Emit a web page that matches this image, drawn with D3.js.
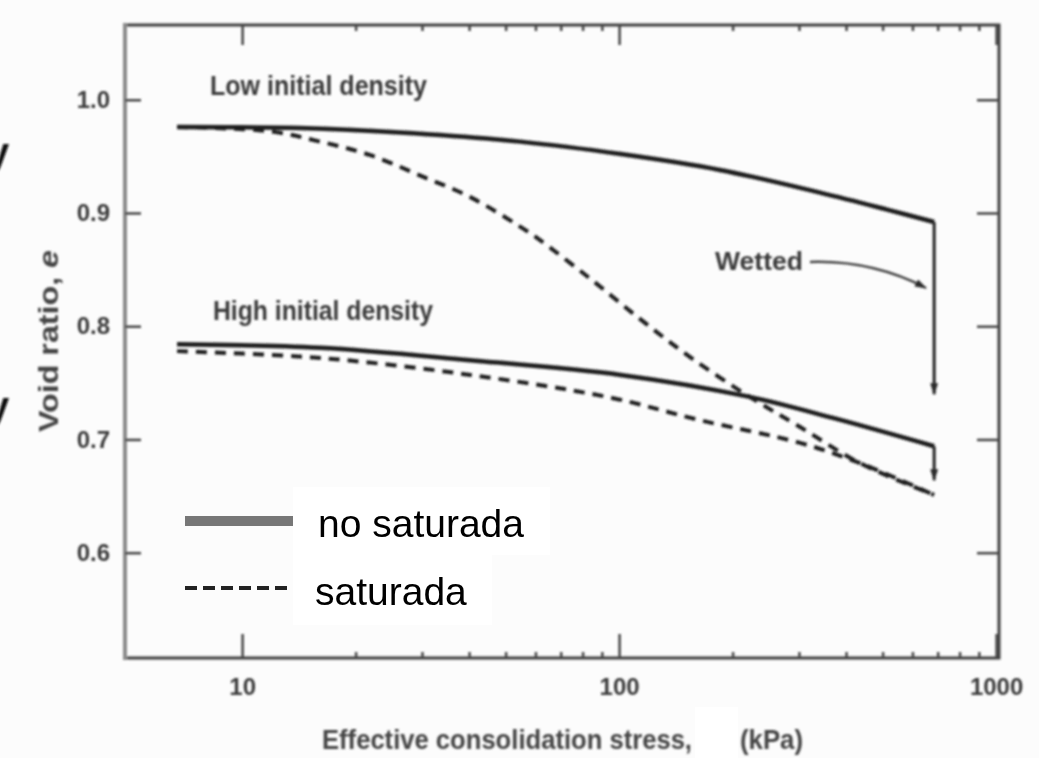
<!DOCTYPE html>
<html>
<head>
<meta charset="utf-8">
<script src="https://cdn.jsdelivr.net/npm/d3@7"></script>
<style>
  html, body { margin: 0; padding: 0; background: #fcfcfc; }
  svg { display: block; }
  text { font-family: "Liberation Sans", Arial, sans-serif; }
</style>
</head>
<body>
<svg id="chart" width="1039" height="758"></svg>
<script>
// Effective consolidation stress (kPa) and void ratio e for each test curve
const stressLowUnsat = [6.72, 14.2, 26.2, 54.6, 101, 185, 341, 514, 685];
const eLowUnsat      = [0.976, 0.975, 0.971, 0.963, 0.952, 0.938, 0.918, 0.903, 0.892];

const stressLowSat = [6.72, 11.9, 16.1, 21.9, 29.7, 40.3, 54.6, 61.7, 83.8, 114, 154, 221, 302, 436, 685];
const eLowSat      = [0.976, 0.972, 0.963, 0.951, 0.933, 0.914, 0.888, 0.876, 0.842, 0.806, 0.773, 0.738, 0.711, 0.679, 0.651];

const stressHighUnsat = [6.72, 16.1, 40.3, 101, 219, 369, 685];
const eHighUnsat      = [0.784, 0.781, 0.770, 0.757, 0.738, 0.719, 0.694];

const stressHighSat = [6.72, 16.1, 40.3, 94.7, 164, 302, 436, 685];
const eHighSat      = [0.778, 0.772, 0.757, 0.737, 0.717, 0.697, 0.679, 0.651];

// Wetting steps at constant stress: e before wetting, e at arrow tip
const wettingStress = 685;
const wettingLow  = [0.892, 0.740];
const wettingHigh = [0.694, 0.664];

// Axis ticks
const xMajorTicks = [10, 100, 1000];
const xMinorTicks = [20, 30, 40, 50, 60, 70, 80, 90, 200, 300, 400, 500, 600, 700, 800, 900];
const yTicks = [0.6, 0.7, 0.8, 0.9, 1.0];

// Text
const curveLabels = ["Low initial density", "High initial density"];
const legendLabels = ["no saturada", "saturada"];
const wettedLabel = "Wetted";

const svg = d3.select("#chart");

const defs = svg.append("defs");
defs.append("filter").attr("id", "soft")
  .attr("x", "-5%").attr("y", "-5%").attr("width", "110%").attr("height", "110%")
  .append("feGaussianBlur").attr("stdDeviation", 0.9);
defs.append("marker").attr("id", "head")
  .attr("viewBox", "0 0 12 8").attr("refX", 11).attr("refY", 4)
  .attr("markerWidth", 12).attr("markerHeight", 8)
  .attr("markerUnits", "userSpaceOnUse").attr("orient", "auto")
  .append("path").attr("d", "M0,0 L12,4 L0,8 Z").attr("fill", "#2a2a2a");

const x = d3.scaleLog().domain([4.89, 1018]).range([125, 999]);
const y = d3.scaleLinear().domain([0.507, 1.066]).range([658, 25]);

const g = svg.append("g").attr("filter", "url(#soft)");

// Frame
g.append("rect").attr("x", 125).attr("y", 25).attr("width", 874).attr("height", 633)
  .attr("fill", "none").attr("stroke", "#3e3e3e").attr("stroke-width", 3);
g.append("line").attr("x1", 125).attr("x2", 125).attr("y1", 23).attr("y2", 660)
  .attr("stroke", "#8a8a8a").attr("stroke-width", 4);

function styleAxis(sel) {
  sel.select(".domain").remove();
  sel.selectAll(".tick line").attr("stroke", "#444").attr("stroke-width", 2.5);
  sel.selectAll(".tick text")
    .attr("fill", "#3a3a3a").attr("font-weight", "bold").attr("font-size", 24);
}

// Bottom axis (ticks pointing inward)
g.append("g").attr("transform", "translate(0,658)")
  .call(d3.axisBottom(x).tickValues(xMajorTicks).tickSize(-24).tickPadding(20)
    .tickFormat(d3.format("d")))
  .call(styleAxis);
g.append("g").attr("transform", "translate(0,658)")
  .call(d3.axisBottom(x).tickValues(xMinorTicks).tickSize(-6).tickFormat(""))
  .call(styleAxis);

// Top axis
g.append("g").attr("transform", "translate(0,25)")
  .call(d3.axisTop(x).tickValues(xMajorTicks).tickSize(-20).tickFormat(""))
  .call(styleAxis);
g.append("g").attr("transform", "translate(0,25)")
  .call(d3.axisTop(x).tickValues(xMinorTicks).tickSize(-6).tickFormat(""))
  .call(styleAxis);

// Left axis
g.append("g").attr("transform", "translate(125,0)")
  .call(d3.axisLeft(y).tickValues(yTicks).tickSize(-16).tickPadding(15)
    .tickFormat(d3.format(".1f")))
  .call(styleAxis);

// Right axis
g.append("g").attr("transform", "translate(999,0)")
  .call(d3.axisRight(y).tickValues(yTicks).tickSize(-22).tickFormat(""))
  .call(styleAxis);

// Axis titles
const yTitle = g.append("text")
  .attr("transform", "translate(58,341) rotate(-90)")
  .attr("text-anchor", "middle")
  .attr("font-size", 27).attr("font-weight", "bold").attr("fill", "#444")
  .attr("textLength", 182).attr("lengthAdjust", "spacingAndGlyphs");
yTitle.append("tspan").text("Void ratio, ");
yTitle.append("tspan").attr("font-style", "italic").text("e");

g.append("text").attr("x", 322).attr("y", 749)
  .attr("font-size", 28).attr("font-weight", "bold").attr("fill", "#444")
  .attr("textLength", 370).attr("lengthAdjust", "spacingAndGlyphs")
  .text("Effective consolidation stress,");
g.append("text").attr("x", 740).attr("y", 749)
  .attr("font-size", 28).attr("font-weight", "bold").attr("fill", "#444")
  .attr("textLength", 63).attr("lengthAdjust", "spacingAndGlyphs")
  .text("(kPa)");

// Curves
const line = d3.line().x(d => x(d[0])).y(d => y(d[1])).curve(d3.curveCatmullRom.alpha(0.5));
const zip = (a, b) => a.map((v, i) => [v, b[i]]);

const series = [
  { pts: zip(stressLowUnsat, eLowUnsat), dash: null },
  { pts: zip(stressHighUnsat, eHighUnsat), dash: null },
  { pts: zip(stressLowSat, eLowSat), dash: "11,8" },
  { pts: zip(stressHighSat, eHighSat), dash: "11,8" }
];
g.selectAll("path.curve").data(series).join("path")
  .attr("class", "curve")
  .attr("d", d => line(d.pts))
  .attr("fill", "none")
  .attr("stroke", "#1e1e1e")
  .attr("stroke-width", d => d.dash ? 4 : 4.5)
  .attr("stroke-dasharray", d => d.dash);

// Wetting arrows
[wettingLow, wettingHigh].forEach(w => {
  g.append("line")
    .attr("x1", x(wettingStress)).attr("x2", x(wettingStress))
    .attr("y1", y(w[0])).attr("y2", y(w[1]))
    .attr("stroke", "#222").attr("stroke-width", 3)
    .attr("marker-end", "url(#head)");
});

// Curve labels
g.append("text").attr("x", 210).attr("y", 95)
  .attr("font-size", 27).attr("font-weight", "bold").attr("fill", "#3a3a3a")
  .attr("textLength", 217).attr("lengthAdjust", "spacingAndGlyphs")
  .text(curveLabels[0]);
g.append("text").attr("x", 213).attr("y", 320)
  .attr("font-size", 27).attr("font-weight", "bold").attr("fill", "#3a3a3a")
  .attr("textLength", 220).attr("lengthAdjust", "spacingAndGlyphs")
  .text(curveLabels[1]);

// "Wetted" annotation with curved pointer
g.append("text").attr("x", 715).attr("y", 270)
  .attr("font-size", 25).attr("font-weight", "bold").attr("fill", "#3a3a3a")
  .attr("textLength", 88).attr("lengthAdjust", "spacingAndGlyphs")
  .text(wettedLabel);
g.append("path").attr("d", "M810,262 Q872,260 926,288")
  .attr("fill", "none").attr("stroke", "#444").attr("stroke-width", 2.5)
  .attr("marker-end", "url(#head)");

// Letters cut by the left edge
g.append("text").attr("x", -13).attr("y", 166)
  .attr("font-size", 40).attr("font-weight", "bold").attr("fill", "#111").text("y");
g.append("text").attr("x", -13).attr("y", 420)
  .attr("font-size", 40).attr("font-weight", "bold").attr("fill", "#111").text("y");

// Patch over the stress symbol in the axis title
svg.append("rect").attr("x", 695).attr("y", 707).attr("width", 43).attr("height", 51)
  .attr("fill", "#ffffff");

// Legend
const lg = svg.append("g");
lg.append("rect").attr("x", 293).attr("y", 487).attr("width", 257).attr("height", 68).attr("fill", "#ffffff");
lg.append("rect").attr("x", 293).attr("y", 555).attr("width", 199).attr("height", 70).attr("fill", "#ffffff");
lg.append("line").attr("x1", 185).attr("x2", 293).attr("y1", 521).attr("y2", 521)
  .attr("stroke", "#777").attr("stroke-width", 10);
lg.append("line").attr("x1", 185).attr("x2", 293).attr("y1", 588).attr("y2", 588)
  .attr("stroke", "#222").attr("stroke-width", 4).attr("stroke-dasharray", "12,6");
lg.append("text").attr("x", 318).attr("y", 537)
  .attr("font-size", 39).attr("fill", "#000").text(legendLabels[0]);
lg.append("text").attr("x", 315).attr("y", 605)
  .attr("font-size", 39).attr("fill", "#000").text(legendLabels[1]);
</script>
</body>
</html>
